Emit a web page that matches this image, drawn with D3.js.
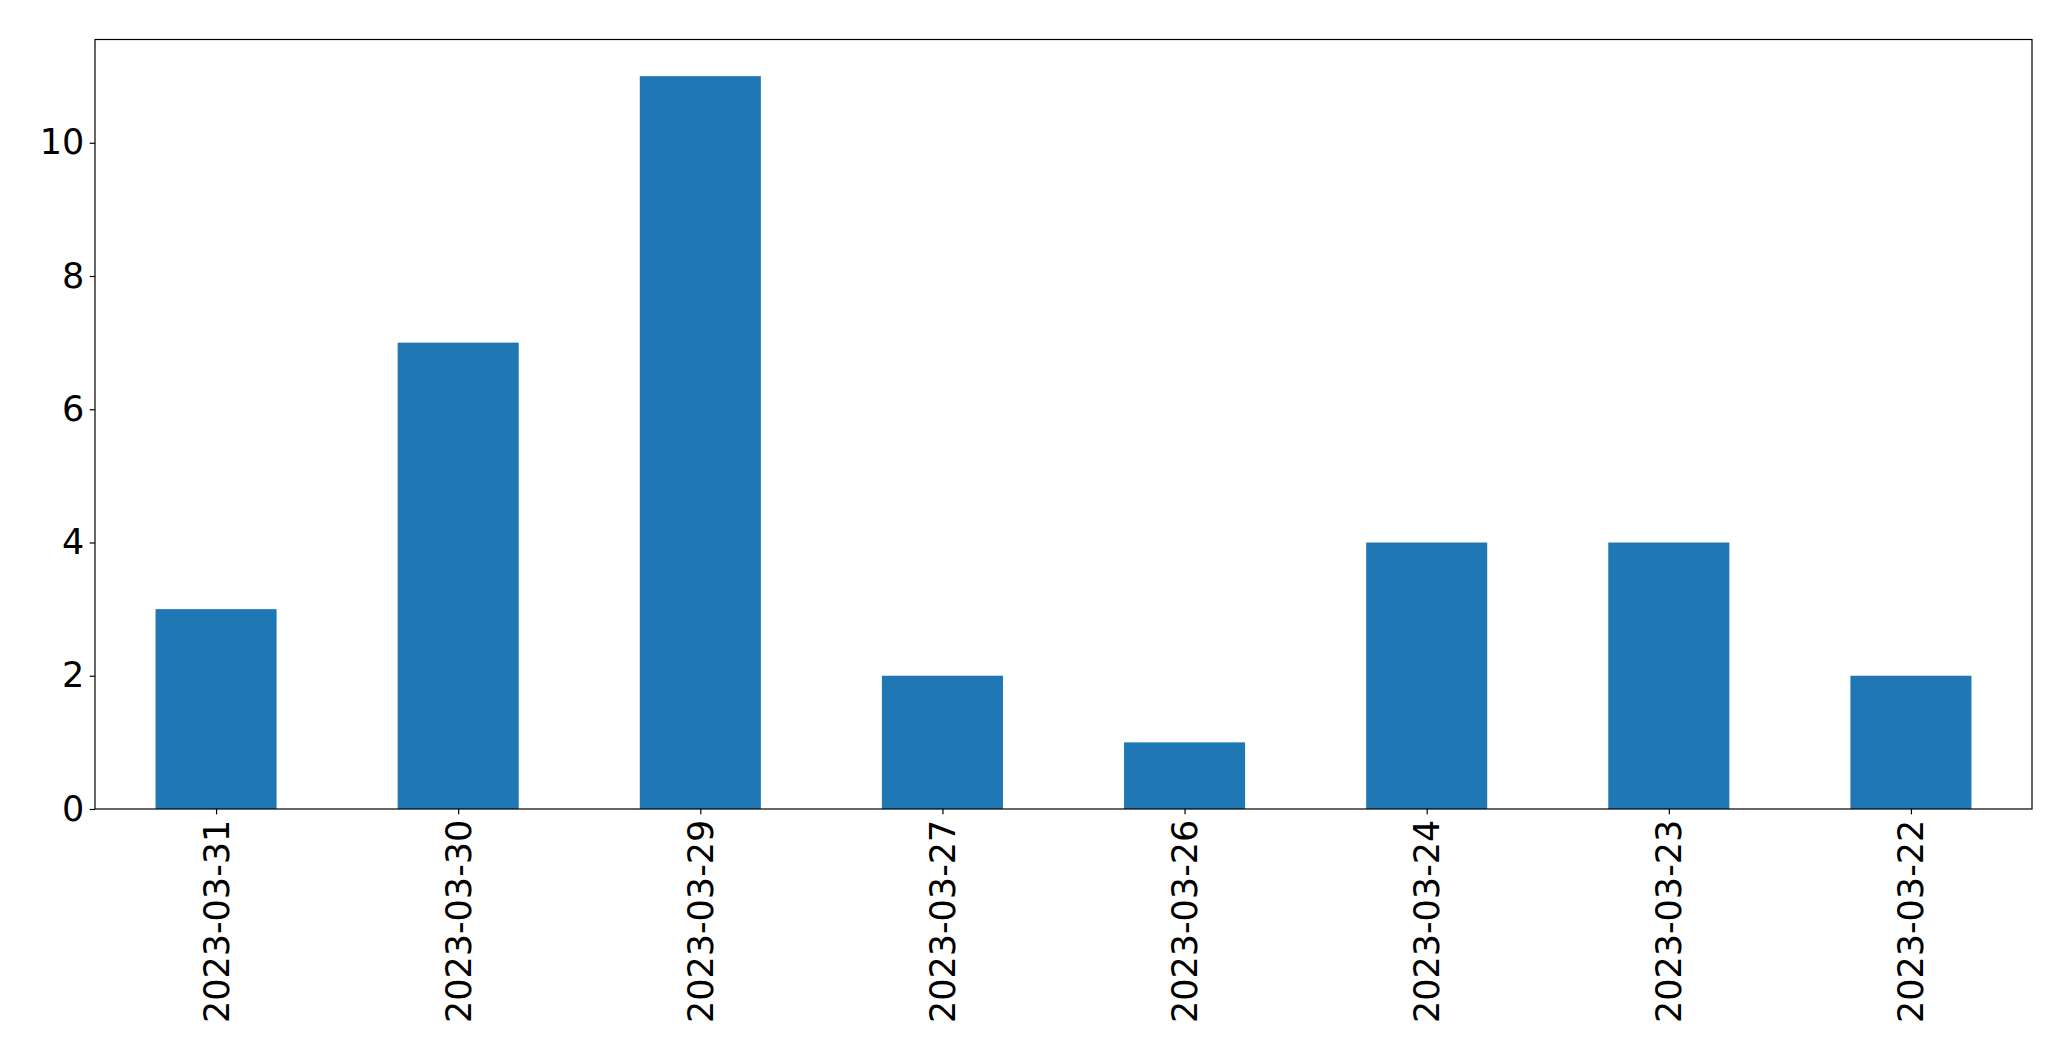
<!DOCTYPE html>
<html>
<head>
<meta charset="utf-8">
<script src="https://cdn.jsdelivr.net/npm/d3@7"></script>
<style>
  html, body { margin: 0; padding: 0; background: #fff; }
  svg { display: block; }
  text { font-family: "DejaVu Sans", sans-serif; fill: #000; }
</style>
</head>
<body>
<svg id="chart" width="2071" height="1061"></svg>
<script>
const categories = ["2023-03-31", "2023-03-30", "2023-03-29", "2023-03-27", "2023-03-26", "2023-03-24", "2023-03-23", "2023-03-22"];
const values = [3, 7, 11, 2, 1, 4, 4, 2];
const yTicks = [0, 2, 4, 6, 8, 10];

const W = 2071, H = 1061;
const margin = { left: 95, top: 39.5, right: W - 2032, bottom: H - 809 };
const pw = W - margin.left - margin.right;
const ph = H - margin.top - margin.bottom;

const svg = d3.select("#chart");
const g = svg.append("g").attr("transform", `translate(${margin.left},${margin.top})`);

const x = d3.scaleLinear().domain([-0.5, categories.length - 0.5]).range([0, pw]);
const y = d3.scaleLinear().domain([0, d3.max(values) * 1.05]).range([ph, 0]);
const barW = 0.5;

g.selectAll("rect.bar")
  .data(values)
  .enter().append("rect")
  .attr("class", "bar")
  .attr("x", (d, i) => x(i - barW / 2))
  .attr("width", (d, i) => x(i + barW / 2) - x(i - barW / 2))
  .attr("y", d => y(d))
  .attr("height", d => y(0) - y(d))
  .attr("fill", "#1f77b4");

const fontSize = 35;
const tickLen = 5.3;
const pad = 5.4;

// Y axis
const yAxis = d3.axisLeft(y).tickValues(yTicks).tickFormat(d3.format("d")).tickSize(tickLen).tickPadding(pad);
const ya = g.append("g").call(yAxis);
ya.select(".domain").remove();
ya.selectAll("line").attr("stroke", "#000").attr("stroke-width", 1.2);
ya.selectAll("text").attr("font-size", fontSize).attr("font-family", "DejaVu Sans").attr("fill", "#000");

// X axis
const xAxis = d3.axisBottom(x).tickValues(d3.range(categories.length)).tickFormat(i => categories[i]).tickSize(tickLen).tickPadding(pad);
const xa = g.append("g").attr("transform", `translate(0,${ph})`).call(xAxis);
xa.select(".domain").remove();
xa.selectAll("line").attr("stroke", "#000").attr("stroke-width", 1.2);
xa.selectAll("text")
  .attr("font-size", fontSize)
  .attr("font-family", "DejaVu Sans")
  .attr("fill", "#000")
  .attr("y", 0)
  .attr("dy", null)
  .attr("text-anchor", "end")
  .attr("dominant-baseline", "central")
  .attr("transform", `translate(0,${tickLen + pad}) rotate(-90)`);

// Frame
g.append("rect")
  .attr("x", 0).attr("y", 0)
  .attr("width", pw).attr("height", ph)
  .attr("fill", "none")
  .attr("stroke", "#000")
  .attr("stroke-width", 1.2);
</script>
</body>
</html>
